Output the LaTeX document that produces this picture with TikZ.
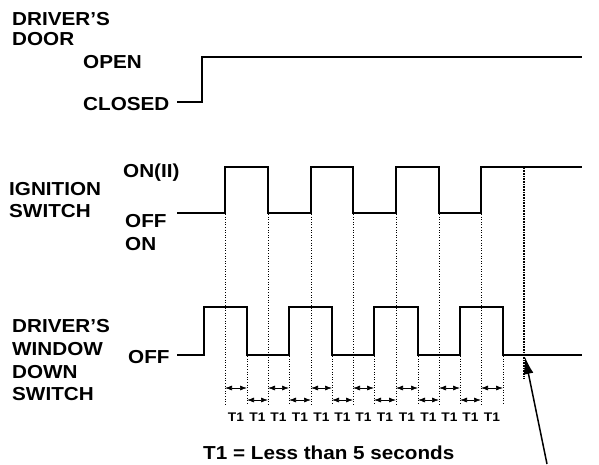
\documentclass[tikz,border=0pt]{standalone}
\usepackage{fontspec}
\setmainfont{Liberation Sans}[FakeStretch=1.1]
\usetikzlibrary{arrows.meta}
\tikzset{
  wave/.style={line width=1.7pt, line join=miter},
  guide/.style={line width=0.6pt, dotted},
  heavyguide/.style={line width=1.4pt, dash pattern=on 0.8pt off 0.8pt},
  lbl/.style={anchor=base west, inner sep=0pt, font=\fontsize{18.8}{22}\selectfont\bfseries},
  small/.style={anchor=base, inner sep=0pt, font=\fontsize{12.5}{14}\selectfont\bfseries},
  tarrow/.style={line width=0.7pt, {Latex[length=7pt,width=5pt]}-{Latex[length=7pt,width=5pt]}},
  pointer/.style={line width=1.5pt, -{Latex[length=17pt,width=10pt]}}
}
\begin{document}
\begin{tikzpicture}[x=1pt,y=-1pt]
\useasboundingbox (0,0) rectangle (599,464);
% labels
\node[lbl] (dd1) at (12,25) {DRIVER'S};
\node[lbl] (dd2) at (12,45) {DOOR};
\node[lbl] (open) at (83,68) {OPEN};
\node[lbl] (closed) at (83,110) {CLOSED};
\node[lbl] (ig1) at (9,195) {IGNITION};
\node[lbl] (ig2) at (9,217) {SWITCH};
\node[lbl] (on2) at (123,177) {ON(II)};
\node[lbl] (ioff) at (125,227) {OFF};
\node[lbl] (ion) at (125,250) {ON};
\node[lbl] (w1) at (12,332) {DRIVER'S};
\node[lbl] (w2) at (12,355) {WINDOW};
\node[lbl] (w3) at (12,378) {DOWN};
\node[lbl] (w4) at (12,400) {SWITCH};
\node[lbl] (woff) at (128,363) {OFF};
\node[lbl] (note) at (203,459) {T1 = Less than 5 seconds};
% door waveform
\draw[wave] (177,102) -- (202,102) -- (202,57) -- (582,57);
% ignition waveform
\draw[wave] (177,213) -- (225,213) -- (225,167) -- (268,167) -- (268,213)
  -- (311,213) -- (311,167) -- (353,167) -- (353,213) -- (396,213) -- (396,167)
  -- (439,167) -- (439,213) -- (481,213) -- (481,167) -- (582,167);
% window waveform
\draw[wave] (177,355) -- (204,355) -- (204,307) -- (247,307) -- (247,355)
  -- (289,355) -- (289,307) -- (332,307) -- (332,355) -- (374,355) -- (374,307)
  -- (418,307) -- (418,355) -- (460,355) -- (460,307) -- (503,307) -- (503,355) -- (582,355);
% guides from ignition edges
\foreach \x in {225,268,311,353,396,439,481}
  \draw[guide] (\x,214) -- (\x,404);
% guides from window edges
\foreach \x in {247,289,332,374,418,460,503}
  \draw[guide] (\x,356) -- (\x,404);
% heavy guide
\draw[heavyguide] (524,168) -- (524,378);
% T1 arrows and labels
\foreach \a/\b [count=\i] in {225/247,247/268,268/289,289/311,311/332,332/353,353/374,374/396,396/418,418/439,439/460,460/481,481/503}{
  \pgfmathsetmacro{\yy}{isodd(\i) ? 388 : 400}
  \coordinate (ta\i) at (\a,\yy);
  \coordinate (tb\i) at (\b,\yy);
  \draw[tarrow] (ta\i) -- (tb\i);
  \node[small] (t\i) at ({(\a+\b)/2},421) {T1};
}
% pointer arrow
\coordinate (pfoot) at (547,464);
\coordinate (ptip) at (525,357);
\draw[pointer] (pfoot) -- (ptip);
\end{tikzpicture}
\end{document}
